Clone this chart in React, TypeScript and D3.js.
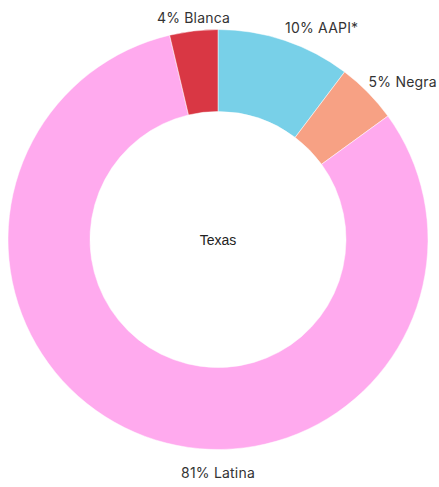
import React, { useRef, useEffect } from 'react';
import * as d3 from 'd3';

const categories = ['AAPI*', 'Negra', 'Latina', 'Blanca'];
const shares = [10.3, 4.7, 81.3, 3.7];
const labelPcts = ['10%', '5%', '81%', '4%'];
const colors = ['#78d0e8', '#f7a184', '#ffaaee', '#d93744'];
const centerLabel = 'Texas';

const W = 439;
const H = 487;

const App = () => {
  const svgRef = useRef<SVGSVGElement>(null);

  useEffect(() => {
    const svg = d3.select(svgRef.current);
    svg.selectAll('*').remove();

    const cx = 218;
    const cy = 239.5;
    const outerR = 210;
    const innerR = 128;
    const labelRx = 211;
    const labelRy = 218;

    const data = categories.map((c, i) => ({ name: c, value: shares[i], pct: labelPcts[i], color: colors[i] }));

    const pie = d3.pie<any>().value(d => d.value).sort(null);
    const arc = d3.arc<any>().innerRadius(innerR).outerRadius(outerR);
    const arcs = pie(data);

    const g = svg.append('g').attr('transform', `translate(${cx},${cy})`);

    g.selectAll('path')
      .data(arcs)
      .enter()
      .append('path')
      .attr('d', arc)
      .attr('fill', d => d.data.color)
      .attr('stroke', '#fff')
      .attr('stroke-width', 0.5);

    g.selectAll('.label')
      .data(arcs)
      .enter()
      .append('text')
      .attr('class', 'label')
      .each(function (d) {
        // big slice gets its label at the bottom
        const a = d.endAngle - d.startAngle > Math.PI ? Math.PI : (d.startAngle + d.endAngle) / 2;
        const s = Math.sin(a);
        const c = Math.cos(a);
        const x = labelRx * s;
        const y = -labelRy * c + (c < 0 ? 20 * -c : 0);
        const anchor = Math.abs(s) < 0.3 ? 'middle' : s > 0 ? 'start' : 'end';
        d3.select(this)
          .attr('x', x)
          .attr('y', y)
          .attr('text-anchor', anchor);
      })
      .style('font-family', 'Inter, "DejaVu Sans", sans-serif')
      .style('font-size', '14px')
      .style('letter-spacing', '0.2px')
      .style('fill', '#333')
      .text(d => `${d.data.pct} ${d.data.name}`);

    g.append('text')
      .attr('x', 0)
      .attr('y', 5)
      .attr('text-anchor', 'middle')
      .style('font-family', '"Liberation Sans", Arial, sans-serif')
      .style('font-size', '14px')
      .style('fill', '#222')
      .text(centerLabel);
  }, []);

  return (
    <svg
      ref={svgRef}
      width={W}
      height={H}
      style={{ position: 'absolute', left: 0, top: 0, background: '#fff' }}
    ></svg>
  );
};

export default App;
